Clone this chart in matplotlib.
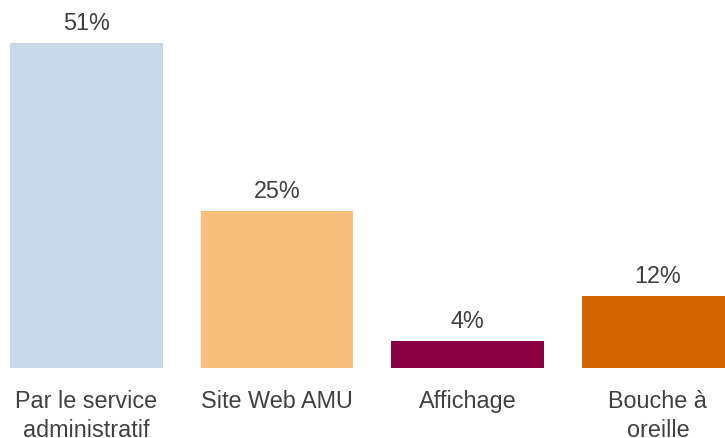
import matplotlib.pyplot as plt

categories = ["Par le service\nadministratif", "Site Web AMU", "Affichage", "Bouche à\noreille"]
values = [51.0, 24.6, 4.2, 11.3]
value_labels = ["51%", "25%", "4%", "12%"]
colors = ["#C8D8EB", "#F8BE7C", "#8A0043", "#D56500"]

plt.rcParams['font.family'] = ['Liberation Sans', 'DejaVu Sans']
txt = "#404040"

fig = plt.figure(figsize=(7.25, 4.39), dpi=100)
ax = fig.add_axes([0, 0, 1, 1])
ax.axis('off')

px = 6.37  # pixels per percent
x = range(len(values))
ax.bar(x, values, width=0.8, color=colors)

for i, (v, lab) in enumerate(zip(values, value_labels)):
    ax.text(i, v + 20 / px, lab, ha='center', va='center', fontsize=16.8, color=txt)
    ax.text(i, -22 / px, categories[i], ha='center', va='top', fontsize=16.8,
            color=txt, linespacing=1.3)

ax.set_xlim(-86.4 / 190.5, (725 - 86.4) / 190.5)
ax.set_ylim(-70.5 / px, 368.5 / px)

fig.savefig("out.png", dpi=100)
